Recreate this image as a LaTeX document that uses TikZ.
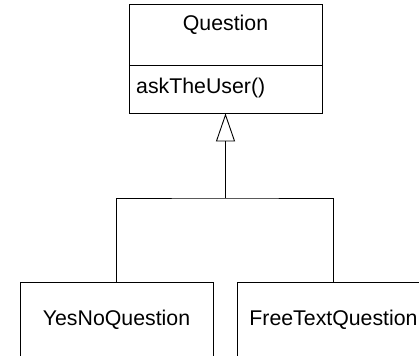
\documentclass[tikz,border=0pt]{standalone}
\usepackage{fontspec}
\setmainfont{Liberation Sans}
\usetikzlibrary{arrows.meta}
\begin{document}
\begin{tikzpicture}[x=1pt,y=-1pt,
  classbox/.style={draw,line width=0.9pt,minimum width=193pt,minimum height=108.5pt,inner sep=0pt,anchor=center},
  lbl/.style={font=\fontsize{21.3}{25}\selectfont,inner sep=0pt},
  conn/.style={line width=0.9pt}]
\useasboundingbox (0,0) rectangle (419,355);
\clip (0,0) rectangle (419,355);
\fill[white] (0,0) rectangle (419,355);
\node[classbox] (q) at (225.5,58.75) {};
\draw[conn] (129,65) -- (322,65);
\node[lbl] (qt) at (225.5,25) {Question};
\node[lbl,anchor=west] (qm) at (136,88) {askTheUser()};
\node[classbox] (yn) at (116.5,336.25) {};
\node[classbox] (ft) at (333.5,336.25) {};
\node[lbl] (ynt) at (116.5,320) {YesNoQuestion};
\node[lbl] (ftt) at (333.5,320) {FreeTextQuestion};
\coordinate (bar) at (225.5,198);
\draw[conn] (yn.north) |- (bar) -| (ft.north);
\draw[conn,-{Triangle[open,length=28pt,width=19pt,line width=0.9pt]}] (bar) -- (bar |- q.south);
\end{tikzpicture}
\end{document}
